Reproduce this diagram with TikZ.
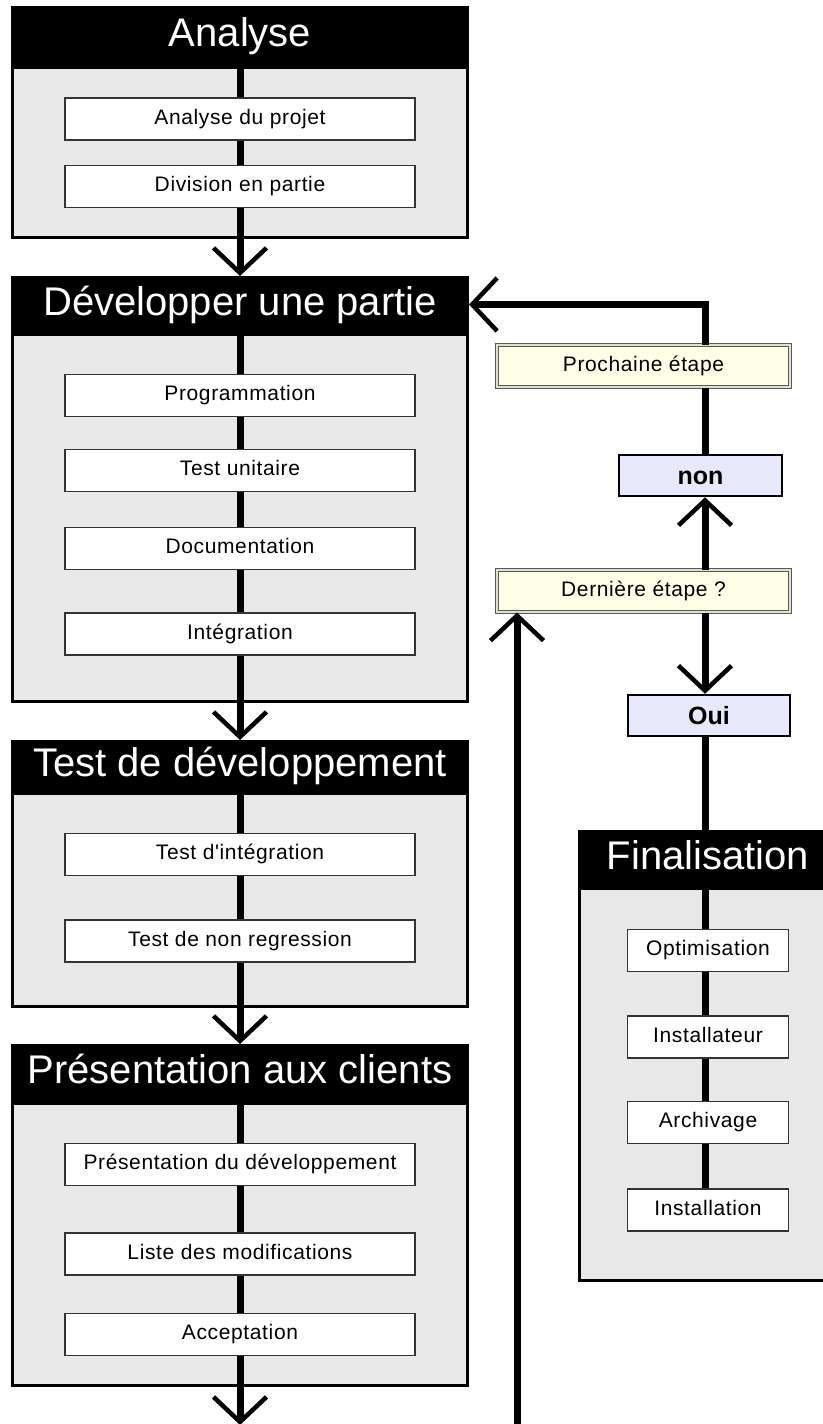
\documentclass[tikz,border=0pt]{standalone}
\usepackage{fontspec}
\setmainfont{Liberation Sans}
\newfontfamily\etapefont[LetterSpace=3]{Liberation Sans}
\usetikzlibrary{arrows.meta}

\definecolor{fondgris}{HTML}{E8E8E8}
\definecolor{fondjaune}{HTML}{FFFFE8}
\definecolor{fondbleu}{HTML}{E8E8FC}

\tikzset{
  titre/.style={draw=black, fill=black, line width=3pt, text=white, inner sep=0pt,
    font=\fontsize{40}{40}\selectfont, text height=29pt, text depth=8pt},
  corps/.style={draw=black, fill=fondgris, line width=3pt, inner sep=0pt},
  etape/.style={draw=black!80, fill=white, line width=1.2pt, inner sep=0pt,
    minimum width=350pt, minimum height=42pt,
    font=\etapefont\fontsize{21}{21}\selectfont, text height=15pt, text depth=4.5pt},
  petite/.style={etape, minimum width=161pt},
  question/.style={draw=black!65, double=fondjaune!88!black, double distance=2pt,
    line width=1pt, fill=fondjaune, inner sep=0pt, minimum width=293pt, minimum height=42pt,
    font=\etapefont\fontsize{21}{21}\selectfont, text height=15pt, text depth=4.5pt},
  reponse/.style={draw=black, fill=fondbleu, line width=2.5pt, inner sep=0pt,
    minimum height=41pt, font=\bfseries\fontsize{25}{25}\selectfont,
    text height=18pt, text depth=1pt},
  lien/.style={line width=7pt},
  fleche/.style={lien, -{Straight Barb[length=25pt, width=53pt, line width=4.5pt]}},
}

\begin{document}
\begin{tikzpicture}[x=1pt, y=-1pt]
    \useasboundingbox (0,0) rectangle (822,1424);

    % Colonnes
    \coordinate (lcol) at (240,0);
    \coordinate (rcol) at (705,0);

    % Analyse
    \node[corps, minimum width=455pt, minimum height=170pt] (bAna) at (240,152.5) {};
    \node[titre, minimum width=455pt, minimum height=57pt] (hAna) at (240,36) {Analyse};
    \node[etape] (eAna1) at (240,119) {Analyse du projet};
    \node[etape] (eAna2) at (240,186.5) {Division en partie};

    % Developper une partie
    \node[corps, minimum width=455pt, minimum height=367pt] (bDev) at (240,518) {};
    \node[titre, minimum width=455pt, minimum height=54pt] (hDev) at (240,304.5) {Développer une partie};
    \node[etape] (eDev1) at (240,395.5) {Programmation};
    \node[etape] (eDev2) at (240,470.5) {Test unitaire};
    \node[etape] (eDev3) at (240,548.5) {Documentation};
    \node[etape] (eDev4) at (240,634) {Intégration};

    % Test de developpement
    \node[corps, minimum width=455pt, minimum height=213pt] (bTest) at (240,900) {};
    \node[titre, minimum width=455pt, minimum height=49pt] (hTest) at (240,766) {Test de développement};
    \node[etape] (eTest1) at (240,854.5) {Test d'intégration};
    \node[etape] (eTest2) at (240,941) {Test de non regression};

    % Presentation aux clients
    \node[corps, minimum width=455pt, minimum height=282pt] (bPres) at (240,1244.5) {};
    \node[titre, minimum width=455pt, minimum height=55pt] (hPres) at (240,1073) {Présentation aux clients};
    \node[etape] (ePres1) at (240,1164.5) {Présentation du développement};
    \node[etape] (ePres2) at (240,1254) {Liste des modifications};
    \node[etape] (ePres3) at (240,1334.5) {Acceptation};
    \coordinate (sortie) at (240,1425);

    % Boucle
    \node[question] (qProch) at (643.5,366) {Prochaine étape};
    \node[reponse, minimum width=163pt] (rNon) at (700.5,475.5) {non};
    \node[question] (qDern) at (643.5,591) {Dernière étape ?};
    \node[reponse, minimum width=162pt] (rOui) at (709,715.5) {Oui};
    \coordinate (retour) at (517,1424);

    % Finalisation
    \node[corps, minimum width=257pt, minimum height=392pt] (bFin) at (708,1084.5) {};
    \node[titre, minimum width=257pt, minimum height=54pt] (hFin) at (708,858.5) {Finalisation};
    \node[petite] (eFin1) at (708,950.5) {Optimisation};
    \node[petite] (eFin2) at (708,1037) {Installateur};
    \node[petite] (eFin3) at (708,1122.5) {Archivage};
    \node[petite] (eFin4) at (708,1210) {Installation};

    % Liens colonne gauche
    \draw[lien] (hAna.south) -- (eAna1.north);
    \draw[lien] (eAna1.south) -- (eAna2.north);
    \draw[fleche] (eAna2.south) -- (hDev.north);
    \draw[lien] (hDev.south) -- (eDev1.north);
    \draw[lien] (eDev1.south) -- (eDev2.north);
    \draw[lien] (eDev2.south) -- (eDev3.north);
    \draw[lien] (eDev3.south) -- (eDev4.north);
    \draw[fleche] (eDev4.south) -- (hTest.north);
    \draw[lien] (hTest.south) -- (eTest1.north);
    \draw[lien] (eTest1.south) -- (eTest2.north);
    \draw[fleche] (eTest2.south) -- (hPres.north);
    \draw[lien] (hPres.south) -- (ePres1.north);
    \draw[lien] (ePres1.south) -- (ePres2.north);
    \draw[lien] (ePres2.south) -- (ePres3.north);
    \draw[fleche] (ePres3.south) -- (sortie);

    % Liens colonne droite
    \draw[fleche] (retour) -- (retour |- qDern.south);
    \draw[fleche] (qProch.north -| rcol) |- (hDev.east);
    \draw[lien] (qProch.south -| rcol) -- (rNon.north -| rcol);
    \draw[fleche] (qDern.north -| rcol) -- (rNon.south -| rcol);
    \draw[fleche] (qDern.south -| rcol) -- (rOui.north -| rcol);
    \draw[lien] (rOui.south -| rcol) -- (hFin.north -| rcol);
    \draw[lien] (hFin.south -| rcol) -- (eFin1.north -| rcol);
    \draw[lien] (eFin1.south -| rcol) -- (eFin2.north -| rcol);
    \draw[lien] (eFin2.south -| rcol) -- (eFin3.north -| rcol);
    \draw[lien] (eFin3.south -| rcol) -- (eFin4.north -| rcol);
\end{tikzpicture}
\end{document}
